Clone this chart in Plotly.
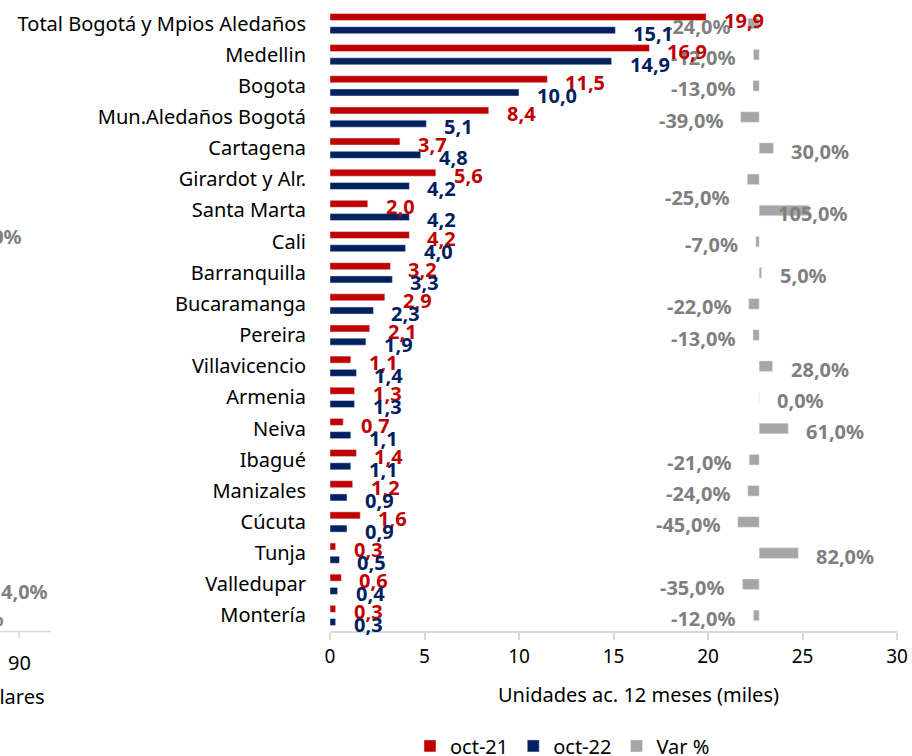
import plotly.graph_objects as go

categories = ["Total Bogotá y Mpios Aledaños", "Medellin", "Bogota", "Mun.Aledaños Bogotá",
              "Cartagena", "Girardot y Alr.", "Santa Marta", "Cali", "Barranquilla",
              "Bucaramanga", "Pereira", "Villavicencio", "Armenia", "Neiva", "Ibagué",
              "Manizales", "Cúcuta", "Tunja", "Valledupar", "Montería"]
oct21 = [19.9, 16.9, 11.5, 8.4, 3.7, 5.6, 2.0, 4.2, 3.2, 2.9, 2.1, 1.1, 1.3, 0.7, 1.4, 1.2, 1.6, 0.3, 0.6, 0.3]
oct22 = [15.1, 14.9, 10.0, 5.1, 4.8, 4.2, 4.2, 4.0, 3.3, 2.3, 1.9, 1.4, 1.3, 1.1, 1.1, 0.9, 0.9, 0.5, 0.4, 0.3]
var_pct = [-24, -12, -13, -39, 30, -25, 105, -7, 5, -22, -13, 28, 0, 61, -21, -24, -45, 82, -35, -12]
x_ticks = [0, 5, 10, 15, 20, 25, 30]

RED = "#C00000"
NAVY = "#002060"
GRAY = "#A6A6A6"
GRAY_TXT = "#7F7F7F"
FONT = "Noto Sans"
FS = 20

def fmt(v, dec=1):
    return f"{v:.{dec}f}".replace(".", ",")

fig = go.Figure()
fig.add_trace(go.Bar(y=categories, x=oct21, orientation="h", name="oct-21",
                     marker_color=RED, xaxis="x", yaxis="y"))
fig.add_trace(go.Bar(y=categories, x=oct22, orientation="h", name="oct-22",
                     marker_color=NAVY, xaxis="x", yaxis="y"))
fig.add_trace(go.Bar(y=categories, x=var_pct, orientation="h", name="Var %",
                     marker_color=GRAY, width=0.34, xaxis="x2", yaxis="y2"))

ann = []
# manual label nudges (layout only)
var_nudge = {"Girardot y Alr.": dict(yshift=-18), "Santa Marta": dict(xshift=-33)}
for c, v in zip(categories, var_pct):
    pos = v >= 0
    a = dict(x=v, y=c, xref="x2", yref="y2", text=f"<b>{fmt(v)}%</b>", showarrow=False,
             xanchor="left" if pos else "right", xshift=16 if pos else -16, yshift=-3,
             font=dict(family=FONT, size=FS, color=GRAY_TXT))
    a.update(var_nudge.get(c, {}))
    ann.append(a)
for c, v in zip(categories, oct21):
    ann.append(dict(x=v, y=c, xref="x", yref="y", text=f"<b>{fmt(v)}</b>", showarrow=False,
                    xanchor="left", xshift=16, yshift=3.5,
                    font=dict(family=FONT, size=FS, color=RED)))
for c, v in zip(categories, oct22):
    ann.append(dict(x=v, y=c, xref="x", yref="y", text=f"<b>{fmt(v)}</b>", showarrow=False,
                    xanchor="left", xshift=16, yshift=-9.5,
                    font=dict(family=FONT, size=FS, color=NAVY)))

W, H = 912, 756
L, R, T, B = 330, 15, 8, 124.5
pw, ph = W - L - R, H - T - B

def px(xp):
    return (xp - L) / pw

def py(yp):
    return (H - B - yp) / ph

# axis title
ann.append(dict(x=px(638), y=py(711), xref="paper", yref="paper", text="Unidades ac. 12 meses (miles)",
                showarrow=False, font=dict(family=FONT, size=FS, color="#000000")))

# fragments of the neighbouring chart, cut off on the left
frag = [("<b>0,0%</b>", 24, 237, GRAY_TXT, "right"), ("<b>4,0%</b>", 50, 592, GRAY_TXT, "right"),
        ("<b>0%</b>", 5, 619, GRAY_TXT, "right"), ("90", 19, 663, "#000000", "center"),
        ("Millares", 47, 697, "#000000", "right")]
for t, xr, yc, col, xa in frag:
    ann.append(dict(x=px(xr), y=py(yc), xref="paper", yref="paper", text=t, showarrow=False,
                    xanchor=xa, yanchor="middle", font=dict(family=FONT, size=FS, color=col)))

shapes = [
    dict(type="line", xref="paper", yref="paper", x0=px(0), x1=px(51), y0=py(632), y1=py(632),
         line=dict(color="#D9D9D9", width=1.5)),
    dict(type="line", xref="paper", yref="paper", x0=px(19), x1=px(19), y0=py(632), y1=py(639),
         line=dict(color="#D9D9D9", width=1.5)),
]

n = len(categories)
fig.update_layout(
    width=W, height=H,
    margin=dict(l=L, r=R, t=T, b=B, pad=0, autoexpand=False),
    paper_bgcolor="white", plot_bgcolor="white",
    barmode="group", bargap=0.15, bargroupgap=0.47,
    font=dict(family=FONT, size=FS, color="#000000"),
    xaxis=dict(range=[0, 30], tickvals=x_ticks, ticktext=[str(t) for t in x_ticks],
               showgrid=False, zeroline=False, showline=True, linecolor="#D9D9D9", linewidth=1.5,
               ticks="outside", ticklen=7, tickcolor="#D9D9D9", tickwidth=1.5,
               tickfont=dict(family=FONT, size=19, color="#000000"), fixedrange=True),
    xaxis2=dict(range=[-900, 289], overlaying="x", visible=False, showgrid=False, zeroline=False),
    yaxis=dict(range=[n - 0.5, -0.5], showgrid=False, zeroline=False, showline=False,
               ticks="outside", ticklen=19, tickcolor="rgba(0,0,0,0)",
               tickfont=dict(family=FONT, size=FS, color="#000000")),
    yaxis2=dict(range=[n - 0.5, -0.5], overlaying="y", visible=False, showgrid=False),
    legend=dict(orientation="h", x=px(410), y=py(766), xanchor="left", yanchor="bottom",
                font=dict(family=FONT, size=FS, color="#000000"), traceorder="normal",
                bgcolor="rgba(0,0,0,0)", borderwidth=0),
    annotations=ann, shapes=shapes, showlegend=True,
)

fig.write_html("out.html", post_script="document.body.style.margin='0';",
               config={"displayModeBar": False})
